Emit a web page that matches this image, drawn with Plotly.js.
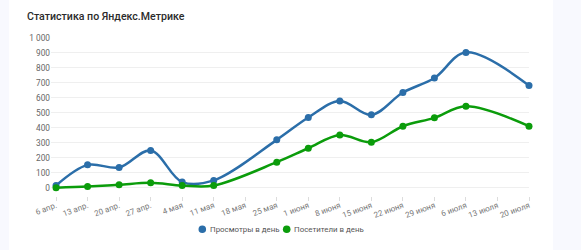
<!DOCTYPE html>
<html>
<head>
<meta charset="utf-8">
<script src="https://cdn.plot.ly/plotly-3.0.1.min.js"></script>
<style>
  html, body { margin: 0; padding: 0; }
  #wrap { position: relative; width: 581px; height: 250px; background: #f8f9fe; overflow: hidden; }
  #card { position: absolute; left: 9px; top: 0; width: 544px; height: 250px; background: #ffffff; }
  #chart { position: absolute; left: 0; top: 0; width: 581px; height: 250px; }
</style>
</head>
<body>
<div id="wrap"><div id="card"></div><div id="chart"></div></div>
<script>
// ---- data ----
const categories = ['6 апр.', '13 апр.', '20 апр.', '27 апр.', '4 мая', '11 мая', '18 мая', '25 мая',
                    '1 июня', '8 июня', '15 июня', '22 июня', '29 июня', '6 июля', '13 июля', '20 июля'];
const views    = [15, 153, 135, 249, 38, 49, null, 320, 469, 580, 487, 636, 733, 904, null, 682];
const visitors = [0, 8, 20, 33, 15, 15, null, 171, 264, 352, 304, 411, 467, 544, null, 411];
const seriesNames = ['Просмотры в день', 'Посетители в день'];
const titleText = 'Статистика по Яндекс.Метрике';
const yTickVals = [0, 100, 200, 300, 400, 500, 600, 700, 800, 900, 1000];
const yTickText = ['0', '100', '200', '300', '400', '500', '600', '700', '800', '900', '1 000'];

// ---- style ----
const BLUE = '#2b6ea9';
const GREEN = '#0b9c0b';
const FONT = 'Roboto, "Open Sans", sans-serif';
const W = 581, H = 250;
const L = 51, R = 529, T = 38, B = 196;
const px = x => (x - L) / (R - L);
const py = y => (B - y) / (B - T);

function lineTrace(y, name, color) {
  return {
    x: categories, y: y, name: name, type: 'scatter', mode: 'lines+markers',
    connectgaps: true, cliponaxis: false, showlegend: false,
    line: { color: color, width: 2.5, shape: 'spline', smoothing: 1 },
    marker: { color: color, size: 7 },
    hoverinfo: 'skip'
  };
}

const data = [lineTrace(views, seriesNames[0], BLUE), lineTrace(visitors, seriesNames[1], GREEN)];

const legendItems = [
  { cx: 202.3, tx: 209, color: BLUE, text: seriesNames[0] },
  { cx: 286.7, tx: 293.3, color: GREEN, text: seriesNames[1] }
];
const legY = 229.3, r = 3.8;

const shapes = legendItems.map(it => ({
  type: 'circle', xref: 'paper', yref: 'paper',
  x0: px(it.cx - r), x1: px(it.cx + r), y0: py(legY + r), y1: py(legY - r),
  fillcolor: it.color, line: { width: 0 }
}));
const annotations = legendItems.map(it => ({
  xref: 'paper', yref: 'paper', x: px(it.tx), y: py(legY),
  xanchor: 'left', yanchor: 'middle', showarrow: false, borderpad: 0,
  text: it.text, font: { family: FONT, size: 7.9, color: '#555' }
}));

const layout = {
  width: W, height: H,
  margin: { l: L, r: W - R, t: T, b: H - B, pad: 0 },
  paper_bgcolor: 'rgba(0,0,0,0)', plot_bgcolor: 'rgba(0,0,0,0)',
  showlegend: false,
  title: {
    text: titleText, x: 27 / W, xanchor: 'left', xref: 'container',
    y: 1 - 16 / H, yanchor: 'middle', yref: 'container',
    font: { family: FONT, size: 10.6, color: '#2b2b2b', weight: 500 }
  },
  xaxis: {
    type: 'category', categoryorder: 'array', categoryarray: categories,
    range: [-0.16, 15], tickmode: 'array', tickvals: categories, ticktext: categories,
    tickangle: -20, ticks: 'outside', ticklen: 4, tickcolor: '#dcdcdc', tickwidth: 1,
    ticklabelstandoff: -3,
    showgrid: false, showline: false, zeroline: false, automargin: false,
    tickfont: { family: FONT, size: 8, color: '#777' }
  },
  yaxis: {
    range: [-55, 1000], tickmode: 'array', tickvals: yTickVals, ticktext: yTickText,
    showgrid: true, gridcolor: '#efefef', gridwidth: 1, zeroline: false, showline: false,
    ticks: '', automargin: false, ticklabelstandoff: 0,
    tickfont: { family: FONT, size: 8.3, color: '#666' }
  },
  shapes: shapes,
  annotations: annotations,
  hovermode: false
};

Plotly.newPlot('chart', data, layout, { displayModeBar: false, staticPlot: true });
</script>
</body>
</html>
